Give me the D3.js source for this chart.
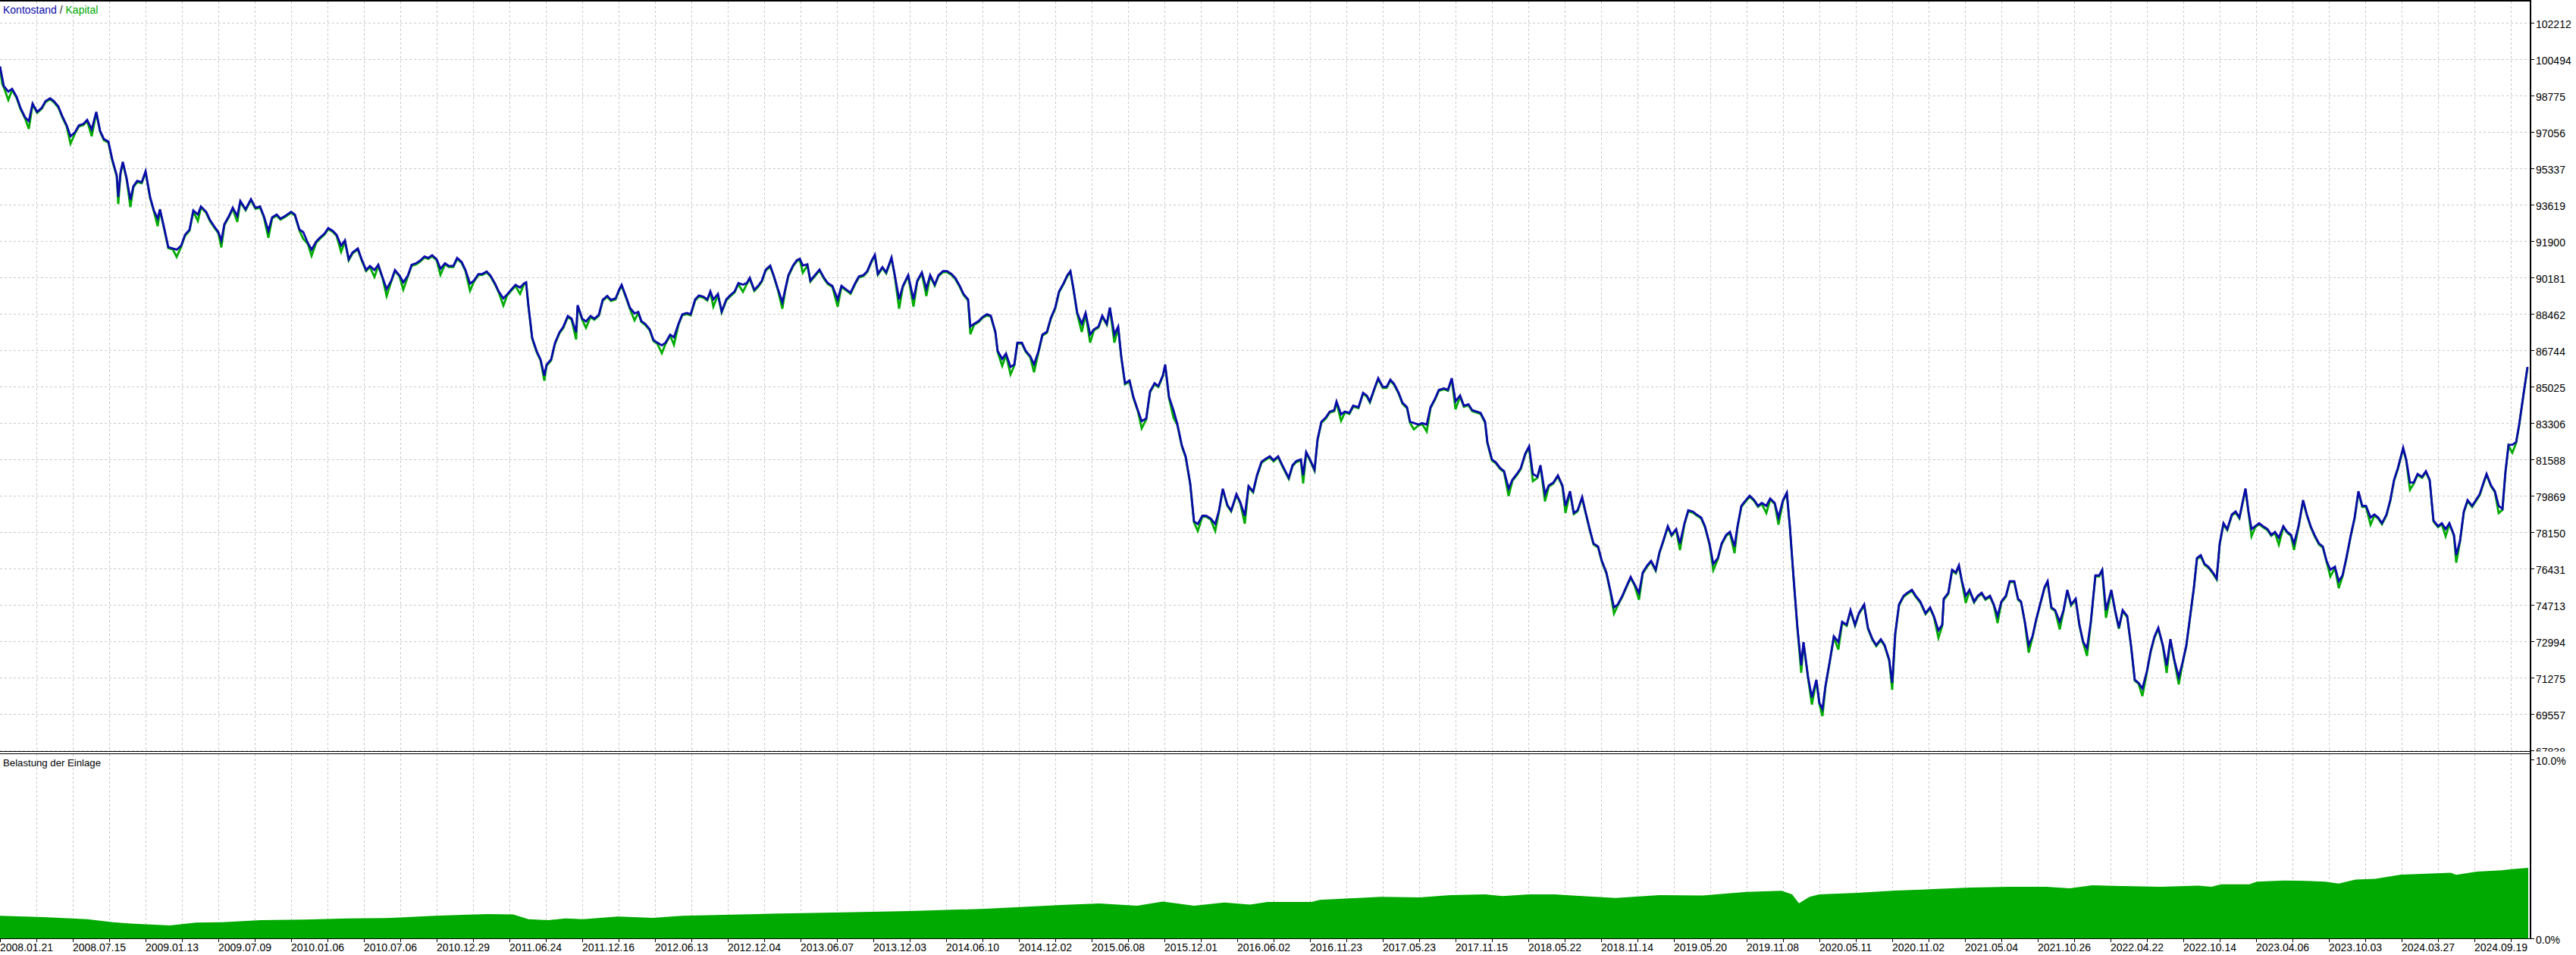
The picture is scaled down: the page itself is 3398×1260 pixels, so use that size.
<!DOCTYPE html>
<html><head><meta charset="utf-8">
<script src="https://cdn.jsdelivr.net/npm/d3@7"></script>
<style>html,body{margin:0;padding:0;background:#fff;overflow:hidden}</style>
</head><body><svg id="c" width="3398" height="1260" xmlns="http://www.w3.org/2000/svg"></svg>
<script>
// ---- data (deal position, balance = Kontostand, equity = Kapital) ----
const dealNr = [0,3,5,11,16,22,27,33,38,43,49,55,60,66,71,77,82,88,93,99,104,110,115,121,127,132,137,143,148,154,156,159,162,167,172,176,181,187,192,198,203,208,211,217,222,228,233,239,244,250,255,261,265,272,277,283,288,292,296,302,307,313,317,324,331,337,343,348,354,359,365,370,376,384,389,395,400,406,411,417,422,428,433,439,444,450,455,460,465,472,477,483,488,494,499,505,510,516,521,527,532,538,543,549,554,560,565,570,576,581,587,592,598,603,609,614,620,625,631,636,642,647,653,658,664,669,675,680,686,691,694,697,702,708,713,718,721,727,732,738,743,749,754,760,762,768,773,779,784,790,795,801,806,812,817,820,826,831,837,842,
846,851,857,862,867,873,878,884,889,895,900,906,911,917,922,928,933,937,941,947,952,958,963,969,974,980,985,989,995,1000,1005,1010,1016,1021,1026,1032,1036,1040,1046,1051,1055,1059,1065,1069,1075,1081,1087,1092,1098,1105,1110,1117,1122,1128,1133,1139,1144,1150,1154,1158,1164,1169,1176,1180,1186,1191,1198,1205,1210,1216,1222,1227,1233,1238,1244,1249,1255,1260,1266,1271,1277,1280,1285,1291,1296,1302,1307,1313,1316,1322,1327,1333,1338,1342,1348,1353,1359,1364,1370,1375,1381,1386,1392,1397,1403,1408,1412,1416,1421,1427,1432,1438,1443,1449,1454,1460,1464,1470,1475,1479,1484,1490,1495,1501,1506,1512,1517,1523,1528,1534,1537,1542,1548,1553,1559,1564,1570,1575,1580,1586,1591,1597,1603,1608,1613,1619,1624,1631,1636,1642,1647,1653,1658,1664,1669,1675,1680,1686,1691,1700,
1705,1710,1716,1719,1723,1728,1734,1738,1743,1749,1754,1760,1763,1769,1774,1780,1785,1792,1798,1803,1807,1813,1818,1824,1829,1834,1839,1845,1850,1856,1860,1865,1871,1876,1882,1887,1893,1898,1905,1910,1915,1920,1926,1931,1937,1942,1948,1953,1959,1962,1968,1973,1979,1984,1990,1995,2001,2006,2012,2017,2022,2028,2032,2038,2043,2049,2055,2061,2065,2071,2076,2081,2087,2091,2097,2102,2108,2113,2119,2124,2129,2134,2140,2145,2151,2156,2162,2167,2173,2178,2184,2189,2194,2200,2205,2211,2216,2222,2227,2233,2238,2244,2249,2255,2260,2266,2271,2277,2282,2288,2292,2297,2303,2308,2314,2319,2324,2330,2335,2341,2346,2352,2357,2361,2366,2371,2376,2379,2385,2390,2396,2400,2404,2408,2414,2419,2425,2430,2436,2441,2447,2452,2459,2464,2470,2475,2481,2486,2492,2496,2500,2505,2511,2516,2522,2527,2533,2540,
2546,2551,2557,2562,2564,2570,2575,2580,2584,2588,2593,2598,2604,2609,2614,2619,2625,2630,2635,2640,2646,2651,2657,2662,2666,2671,2676,2681,2686,2692,2697,2701,2706,2711,2717,2722,2727,2732,2738,2743,2748,2753,2758,2764,2769,2773,2778,2785,2790,2795,2800,2806,2811,2816,2821,2826,2832,2837,2842,2847,2853,2858,2863,2868,2874,2879,2884,2889,2894,2898,2903,2908,2913,2919,2924,2928,2933,2938,2944,2949,2954,2958,2962,2966,2970,2975,2980,2985,2991,2996,3001,3006,3012,3017,3022,3026,3032,3038,3043,3048,3053,3059,3064,3069,3074,3080,3085,3090,3095,3101,3106,3111,3116,3121,3127,3132,3137,3142,3148,3153,3158,3163,3170,3174,3179,3184,3189,3195,3200,3205,3210,3216,3221,3226,3231,3237,3240,3245,3250,3255,3261,3266,3271,3276,3280,3286,3291,3296,3301,3305,3309,3314,3319,3323,3329,3334];

const balance = [100150,99600,99220,98960,99090,98710,98190,97750,97560,98390,98000,98190,98510,98640,98510,98260,97810,97360,96850,97040,97360,97430,97620,97170,98000,97110,96720,96600,95770,95000,93980,95130,95640,94870,93850,94490,94740,94680,95190,93980,93340,92960,93400,92440,91610,91550,91490,91680,92190,92440,93340,93150,93530,93280,92890,92570,92320,91930,92700,93080,93470,93080,93790,93400,93880,93470,93530,93080,92380,93020,93150,92960,93080,93280,93150,92440,92320,91810,91490,91870,92060,92250,92510,92380,92190,91680,91930,91040,91360,91550,91040,90530,90720,90530,90780,90140,89630,90020,90530,90270,89950,90270,90780,90850,90970,91170,91100,91230,91040,90590,90850,90720,90720,91100,90910,90530,89890,90020,90340,90340,90460,90270,89890,89510,89190,89380,89630,89830,89700,89890,89950,88870,87330,86690,86310,85540,86060,86310,87080,87590,87840,88360,88230,87590,88870,88230,88100,88360,88230,88420,89120,89310,89120,89190,89630,89830,89250,88740,88480,88550,
88120,87990,87730,87220,87100,86970,87100,87480,87350,87990,88440,88500,88440,89140,89330,89270,89140,89520,89140,89400,88570,89140,89330,89520,89910,89840,89910,90160,89590,89780,90030,90550,90740,90230,89650,89010,89650,90290,90740,90990,91060,90740,90800,90030,90290,90550,90160,89910,89780,89140,89780,89590,89460,89910,90230,90290,90480,90990,91250,90350,90670,90420,91120,90350,89140,89780,90290,89140,90030,90420,89650,90290,89840,90290,90480,90480,90350,90160,89780,89400,89140,87860,87990,88120,88310,88440,88370,87610,86710,86330,86580,85950,86070,87100,87100,86710,86460,86070,86710,87480,87610,88250,88760,89520,89910,90290,90480,89650,88500,87990,88500,87480,87730,87860,88370,87990,88760,87480,87860,86460,85180,85310,84540,83900,83390,83520,84800,85180,85050,85560,86070,84540,83900,83260,82240,81730,80450,78660,78530,78920,78920,78790,78530,79170,80200,79430,79170,79940,79560,78920,80320,80070,80830,81470,81600,81730,81540,81730,81350,80710,
81310,81510,81580,80830,81930,81580,81100,82540,83360,83570,83840,83910,84320,83710,83840,83780,84120,84050,84730,84600,84320,84940,85420,85010,85010,85350,85150,84730,84260,84050,83360,83300,83230,83300,83230,84050,84460,84870,84940,84870,85420,84320,84600,84120,84190,83910,83840,83780,83360,82400,81580,81450,81170,81030,80210,80620,80900,81170,81860,82200,80900,80760,81310,79940,80350,80490,80830,80350,79390,80080,79050,79180,79800,79180,78290,77610,77470,76790,76240,75420,74590,74730,75140,75550,76030,75690,75280,76240,76580,76790,76370,77200,77740,78430,78020,78290,77610,78570,79180,79120,78980,78840,78430,77610,76650,76920,77610,78020,78160,77470,78430,79390,79660,79870,79660,79390,79530,79390,79730,79530,78840,79660,80010,78430,75960,73630,71850,72950,71300,70340,71170,70070,69800,70890,72130,73220,72950,73910,73770,74460,73770,74320,74730,73630,73090,72810,73090,72810,72130,71030,73360,74730,75140,75280,75420,75140,74870,74320,
74590,74180,73500,73770,75000,75280,76370,76240,76580,75830,75140,75420,74870,75140,75280,75000,75140,74730,74180,74870,75140,75830,75830,75000,74870,73910,72810,73220,74040,74870,75550,75830,74590,74460,73910,74460,75420,74730,75000,73770,72950,72670,73910,76100,76100,76370,74460,75420,74460,73630,74460,74180,72810,71170,71030,70760,71580,72540,73220,73630,72810,71850,73090,72130,71300,71990,72810,74180,75550,76920,77060,76650,76510,76240,75960,77610,78570,78290,78980,79120,78840,79530,80210,79120,78290,78430,78570,78430,78290,78020,78160,77880,78430,78160,78020,77610,78430,79660,78980,78430,78020,77610,77470,76790,76370,76510,75830,76100,76920,78020,78840,80080,79390,79390,78840,78980,78840,78570,78980,79660,80620,81170,82130,81580,80490,80490,80900,80760,81030,80620,78700,78430,78570,78290,78570,78020,77060,77740,79120,79660,79390,79660,79940,80490,80900,80350,80080,79390,79250,81030,82270,82270,82400,83230,84730,85950];

const equity = [100100,99300,99170,98560,99040,98650,98130,97700,97200,98340,97950,98140,98460,98590,98460,98200,97760,97300,96500,96990,97310,97380,97570,96850,97950,97060,96660,96550,95710,94950,93650,95080,95590,94820,93500,94440,94690,94630,95140,93930,93290,92600,93350,92390,91560,91500,91150,91630,92140,92390,93290,92850,93480,93230,92840,92520,92270,91600,92650,93030,93420,92800,93740,93350,93830,93420,93480,93030,92050,92970,93100,92910,93030,93230,93100,92390,92000,91760,91200,91820,92010,92200,92460,92330,92140,91380,91880,90990,91310,91500,90990,90480,90670,90200,90730,90090,89300,89970,90480,90220,89600,90220,90730,90800,90920,91120,91050,91180,90990,90300,90800,90670,90670,91050,90860,90480,89550,89970,90290,90290,90410,90220,89840,89460,88850,89330,89580,89780,89400,89840,89900,88820,87280,86640,86260,85300,86010,86260,87030,87540,87790,88310,88180,87250,88820,88180,87800,88310,88180,88370,89070,89260,89070,89140,89580,89780,89200,88690,88150,88500,
88070,87940,87680,87170,87050,86600,87050,87430,87000,87940,88390,88450,88390,89090,89280,89220,89090,89470,88800,89350,88520,89090,89280,89470,89860,89500,89860,90110,89540,89730,89980,90500,90690,90180,89600,88700,89600,90240,90690,90940,91010,90400,90750,89980,90240,90500,90110,89860,89730,88800,89730,89540,89410,89860,90180,90240,90430,90940,91200,90300,90620,90370,91070,90300,88700,89730,90240,88800,89980,90370,89300,90240,89790,90240,90430,90430,90300,90110,89730,89350,89090,87500,87940,88070,88260,88390,88320,87560,86660,86000,86530,85600,86020,87050,87050,86660,86410,85700,86660,87430,87560,88200,88710,89470,89860,90240,90430,89600,88450,87600,88450,87100,87680,87810,88320,87940,88710,87100,87810,86410,85130,85260,84490,83850,83050,83470,84750,85130,85000,85510,86020,84490,83550,83210,82190,81680,80400,78610,78200,78870,78870,78740,78200,79120,80150,79380,79120,79890,79510,78550,80270,80020,80780,81420,81550,81680,81490,81680,81300,80660,
81260,81460,81530,80450,81880,81530,81050,82490,83310,83520,83790,83860,84270,83400,83790,83730,84070,84000,84680,84550,84270,84890,85370,84960,84960,85300,85100,84680,84210,84000,83310,83000,83180,83250,82900,84000,84410,84820,84890,84820,85370,83950,84550,84070,84140,83860,83790,83730,83310,82350,81530,81400,81120,80980,79850,80570,80850,81120,81810,82150,80550,80710,81260,79600,80300,80440,80780,80300,79050,80030,79000,79130,79750,79130,78240,77560,77420,76740,76190,75370,74300,74680,75090,75500,75980,75640,74950,76190,76530,76740,76320,77150,77690,78380,77970,78240,77300,78520,79130,79070,78930,78790,78380,77560,76350,76870,77560,77970,78110,77150,78380,79340,79610,79820,79610,79340,79480,79050,79680,79480,78500,79610,79960,78380,75910,73580,71500,72900,71250,70000,71120,70020,69450,70840,72080,73170,72600,73860,73720,74410,73720,74270,74680,73580,73040,72760,73040,72760,72080,70700,73310,74680,75090,75230,75370,75090,74820,74270,
74540,74130,73150,73720,74950,75230,76320,76190,76530,75780,74800,75370,74820,75090,75230,74950,75090,74680,73850,74820,75090,75780,75780,74950,74820,73860,72450,73170,73990,74820,75500,75780,74540,74410,73550,74410,75370,74680,74950,73720,72900,72300,73860,76050,76050,76320,74100,75370,74410,73580,74410,74130,72760,71120,70980,70400,71530,72490,73170,73580,72760,71500,73040,72080,70950,71940,72760,74130,75500,76870,77010,76600,76460,76190,75910,77560,78520,78240,78930,79070,78790,79480,80160,79070,77950,78380,78520,78380,78240,77970,78110,77550,78380,78110,77970,77300,78380,79610,78930,78380,77970,77560,77420,76740,76050,76460,75500,76050,76870,77970,78790,80030,79340,79340,78500,78930,78790,78520,78930,79610,80570,81120,82080,81530,80150,80440,80850,80710,80980,80570,78650,78380,78520,77950,78520,77970,76700,77690,79070,79610,79340,79610,79890,80440,80850,80300,80030,79050,79200,80980,82220,81900,82350,83180,84680,85900];

// Belastung der Einlage (%)
const loadPos = [0,57,115,149,172,224,258,293,344,402,459,517,574,603,643,677,697,723,746,769,815,861,900,1000,1100,1200,1300,1400,1450,1500,1534,1575,1615,1649,1672,1730,1741,1787,1821,1873,1913,1959,1982,2017,2051,2074,2131,2189,2246,2304,2350,2364,2373,2387,2400,2450,2500,2550,2600,2650,2700,2730,2760,2800,2850,2900,2917,2930,2967,2977,3013,3033,3067,3085,3107,3133,3167,3200,3233,3240,3267,3300,3313,3335];
const loadPct = [1.26,1.19,1.07,0.90,0.83,0.72,0.88,0.90,1.02,1.05,1.11,1.14,1.26,1.30,1.36,1.33,1.07,1.02,1.11,1.07,1.22,1.14,1.26,1.36,1.44,1.53,1.65,1.86,1.95,1.82,2.06,1.82,2.00,1.89,2.03,2.03,2.15,2.25,2.32,2.29,2.42,2.46,2.36,2.46,2.46,2.39,2.26,2.42,2.39,2.60,2.66,2.46,1.96,2.32,2.46,2.54,2.67,2.75,2.84,2.88,2.88,2.80,2.97,2.92,2.88,2.95,2.88,3.02,3.02,3.17,3.23,3.22,3.17,3.06,3.28,3.33,3.56,3.61,3.66,3.55,3.73,3.80,3.87,3.94];

const balanceTicks = [67838,69557,71275,72994,74713,76431,78150,79869,81588,83306,85025,86744,88462,90181,91900,93619,95337,97056,98775,100494,102212];
const loadTicks = [0, 10];
const dateLabels = ["2008.01.21","2008.07.15","2009.01.13","2009.07.09","2010.01.06","2010.07.06","2010.12.29","2011.06.24","2011.12.16","2012.06.13","2012.12.04","2013.06.07","2013.12.03","2014.06.10","2014.12.02","2015.06.08","2015.12.01","2016.06.02","2016.11.23","2017.05.23","2017.11.15","2018.05.22","2018.11.14","2019.05.20","2019.11.08","2020.05.11","2020.11.02","2021.05.04","2021.10.26","2022.04.22","2022.10.14","2023.04.06","2023.10.03","2024.03.27","2024.09.19"];

// ---- layout ----
const svg = d3.select("#c");
const FONT = "'Liberation Sans', Arial, sans-serif";
const plotR = 3337.5, mainB = 991.5, lowT = 994, lowB = 1238.5;
const BLUE = "#0a0aaa", GREEN = "#00aa00";

const x = d3.scaleLinear().domain([0, 3337]).range([0, 3337]);
const y = d3.scaleLinear().domain([67838, 102212]).range([990, 30]);
const yL = d3.scaleLinear().domain([0, 10]).range([1238, 1002]);

const defs = svg.append("defs");
defs.append("clipPath").attr("id","clipMain").append("rect").attr("x",0).attr("y",2).attr("width",plotR).attr("height",mainB-2.5);
defs.append("clipPath").attr("id","clipLow").append("rect").attr("x",0).attr("y",lowT+0.5).attr("width",plotR).attr("height",lowB-lowT-1);
defs.append("clipPath").attr("id","clipAxis").append("rect").attr("x",plotR).attr("y",0).attr("width",100).attr("height",mainB);

// vertical grid positions (every 48 deal units), labels every second
const xGrid = d3.range(0, 3337, 48);
const grid = svg.append("g").attr("stroke","#c8c8c8").attr("stroke-width",1).attr("stroke-dasharray","3,3").attr("shape-rendering","crispEdges");
xGrid.filter(v => v > 0).forEach(v => {
  grid.append("line").attr("x1",x(v)+0.5).attr("x2",x(v)+0.5).attr("y1",2).attr("y2",mainB-1);
  grid.append("line").attr("x1",x(v)+0.5).attr("x2",x(v)+0.5).attr("y1",lowT+1).attr("y2",lowB-1);
});
balanceTicks.forEach(v => {
  grid.append("line").attr("x1",0).attr("x2",plotR).attr("y1",Math.round(y(v))+0.5).attr("y2",Math.round(y(v))+0.5);
});

// ---- main panel lines ----
const n = Math.min(dealNr.length, balance.length, equity.length);
const pts = d3.range(n).map(i => ({d: dealNr[i], b: balance[i], e: equity[i]}));
const gMain = svg.append("g").attr("clip-path","url(#clipMain)");
gMain.append("path").datum(pts)
  .attr("fill","none").attr("stroke",GREEN).attr("stroke-width",2.8).attr("stroke-linejoin","miter")
  .attr("d", d3.line().x(p => x(p.d)).y(p => y(p.e)));
gMain.append("path").datum(pts)
  .attr("fill","none").attr("stroke",BLUE).attr("stroke-width",2.8).attr("stroke-linejoin","miter")
  .attr("d", d3.line().x(p => x(p.d)).y(p => y(p.b)));

if (dealNr.length !== balance.length || balance.length !== equity.length) {
  svg.append("text").attr("x",1500).attr("y",40).attr("fill","red").attr("font-size",20)
    .text("len " + dealNr.length + " " + balance.length + " " + equity.length);
}

// ---- lower panel (Belastung der Einlage) ----
const lp = d3.range(Math.min(loadPos.length, loadPct.length)).map(i => ({d: loadPos[i], p: loadPct[i]}));
svg.append("g").attr("clip-path","url(#clipLow)").append("path").datum(lp)
  .attr("fill",GREEN).attr("stroke","none")
  .attr("d", d3.area().x(p => x(p.d)).y0(yL(0)).y1(p => yL(p.p)));

// ---- frames ----
const fr = svg.append("g").attr("stroke","#000").attr("shape-rendering","crispEdges");
fr.append("line").attr("x1",0).attr("x2",plotR+1).attr("y1",0.5).attr("y2",0.5).attr("stroke-width",2);
fr.append("line").attr("x1",0).attr("x2",plotR).attr("y1",991.5).attr("y2",991.5).attr("stroke-width",1);
fr.append("line").attr("x1",0).attr("x2",plotR).attr("y1",994.5).attr("y2",994.5).attr("stroke-width",1);
fr.append("line").attr("x1",0).attr("x2",plotR+1).attr("y1",1238.5).attr("y2",1238.5).attr("stroke-width",1.5);
fr.append("line").attr("x1",plotR+0.5).attr("x2",plotR+0.5).attr("y1",0).attr("y2",1239).attr("stroke-width",1.5);

// right axis ticks & labels (main)
const axR = svg.append("g");
balanceTicks.forEach(v => {
  const yy = Math.round(y(v)) + 0.5;
  axR.append("line").attr("x1",plotR).attr("x2",plotR+5).attr("y1",yy).attr("y2",yy).attr("stroke","#000").attr("shape-rendering","crispEdges");
  axR.append("text").attr("x",3345).attr("y",yy+6).attr("clip-path","url(#clipAxis)")
    .attr("font-family",FONT).attr("font-size",14).attr("fill","#000").text(v);
});
loadTicks.forEach(v => {
  const yy = Math.round(yL(v)) + 0.5;
  axR.append("line").attr("x1",plotR).attr("x2",plotR+5).attr("y1",yy).attr("y2",yy).attr("stroke","#000").attr("shape-rendering","crispEdges");
  axR.append("text").attr("x",3345).attr("y",yy+6)
    .attr("font-family",FONT).attr("font-size",14).attr("fill","#000").text(v.toFixed(1) + "%");
});

// bottom axis ticks & date labels
const axB = svg.append("g");
xGrid.forEach((v, i) => {
  axB.append("line").attr("x1",x(v)+0.5).attr("x2",x(v)+0.5).attr("y1",1238).attr("y2",1243).attr("stroke","#000").attr("shape-rendering","crispEdges");
  if (i % 2 === 0 && dateLabels[i/2]) {
    axB.append("text").attr("x",x(v)).attr("y",1255)
      .attr("font-family",FONT).attr("font-size",14).attr("fill","#000").text(dateLabels[i/2]);
  }
});

// titles
const lg = svg.append("text").attr("x",4).attr("y",18).attr("font-family",FONT).attr("font-size",14);
lg.append("tspan").attr("fill",BLUE).text("Kontostand");
lg.append("tspan").attr("fill","#222").text(" / ");
lg.append("tspan").attr("fill",GREEN).text("Kapital");
svg.append("text").attr("x",4).attr("y",1011).attr("font-family",FONT).attr("font-size",13.2).attr("fill","#000").text("Belastung der Einlage");
</script>
</body></html>
